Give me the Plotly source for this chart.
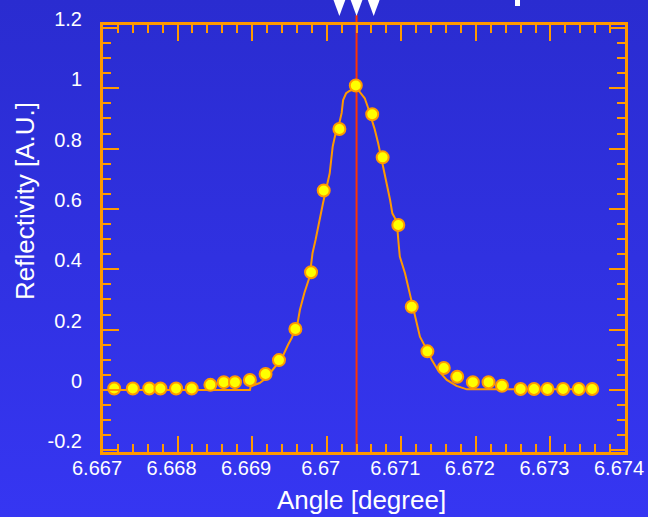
import base64
import plotly.graph_objects as go

# ---------------- data ----------------
meas_angle = [6.66715, 6.66740, 6.66762, 6.66777, 6.66798, 6.66819, 6.66844, 6.66862,
              6.66877, 6.66897, 6.66918, 6.66936, 6.66958, 6.66979, 6.66996, 6.67017,
              6.67039, 6.67061, 6.67075, 6.67096, 6.67114, 6.67135, 6.67157, 6.67175,
              6.67196, 6.67217, 6.67235, 6.67260, 6.67278, 6.67296, 6.67317, 6.67338,
              6.67356]
meas_refl = [0.005, 0.005, 0.005, 0.005, 0.005, 0.005, 0.017, 0.026,
             0.026, 0.033, 0.053, 0.099, 0.202, 0.390, 0.661, 0.865,
             1.009, 0.914, 0.771, 0.547, 0.276, 0.128, 0.073, 0.044,
             0.026, 0.026, 0.014, 0.003, 0.003, 0.003, 0.003, 0.003,
             0.003]

fit_angle = [6.66715, 6.66897, 6.66898, 6.66910, 6.66919, 6.66930, 6.66940, 6.66948,
             6.66953, 6.66961, 6.66964, 6.66970, 6.66977, 6.66981, 6.66985, 6.66995,
             6.67004, 6.67008, 6.67012, 6.67017, 6.67020, 6.67022, 6.67026, 6.67031,
             6.67039, 6.67044, 6.67051, 6.67055, 6.67064, 6.67069, 6.67076, 6.67080,
             6.67085, 6.67088, 6.67094, 6.67096, 6.67098, 6.67105, 6.67111, 6.67118,
             6.67125, 6.67132, 6.67141, 6.67149, 6.67161, 6.67174, 6.67188, 6.67356]
fit_refl = [0.0, 0.0, 0.0116, 0.023, 0.0398, 0.0729, 0.1061, 0.1492,
            0.1724, 0.2221, 0.2652, 0.3215, 0.3745, 0.4541, 0.4972, 0.6187,
            0.7182, 0.8065, 0.8519, 0.8850, 0.9181, 0.9612, 0.9834, 0.9920,
            0.9977, 0.9887, 0.9668, 0.9387, 0.8671, 0.8175, 0.7401, 0.6848,
            0.6297, 0.5855, 0.5579, 0.4972, 0.4419, 0.3867, 0.3204, 0.2431,
            0.1768, 0.1436, 0.0994, 0.0663, 0.0332, 0.0133, 0.002, 0.002]

peak_angle = 6.67040
marker_angles = [6.67017, 6.67040, 6.67063]

x_tickvals = [6.667, 6.668, 6.669, 6.670, 6.671, 6.672, 6.673, 6.674]
x_ticktext = ["6.667", "6.668", "6.669", "6.67", "6.671", "6.672", "6.673", "6.674"]
y_tickvals = [-0.2, 0.0, 0.2, 0.4, 0.6, 0.8, 1.0, 1.2]
y_ticktext = ["-0.2", "0", "0.2", "0.4", "0.6", "0.8", "1", "1.2"]

# ---------------- style ----------------
W, H = 648, 517
ML, MR, MT, MB = 103, 23, 25, 65
PW, PH = W - ML - MR, H - MT - MB
ORANGE = "#FF9900"
FONT = "Liberation Sans, Arial, sans-serif"
X_RANGE = [6.667, 6.674]

def px_to_paper_y(py):
    return (H - MB - py) / PH

svg = ('<svg xmlns="http://www.w3.org/2000/svg" width="648" height="517" '
       'preserveAspectRatio="none"><defs><linearGradient id="g" x1="0" y1="0" x2="0" y2="1">'
       '<stop offset="0" stop-color="#2A2CD0"/><stop offset="1" stop-color="#3636F2"/>'
       '</linearGradient></defs><rect width="648" height="517" fill="url(#g)"/></svg>')
bg_src = "data:image/svg+xml;base64," + base64.b64encode(svg.encode()).decode()

fig = go.Figure()

fig.add_trace(go.Scatter(
    x=fit_angle, y=fit_refl, mode="lines",
    line=dict(color=ORANGE, width=2), hoverinfo="skip", showlegend=False))

fig.add_trace(go.Scatter(
    x=meas_angle, y=meas_refl, mode="markers",
    marker=dict(color="#FFFF00", size=12, line=dict(color=ORANGE, width=2)),
    showlegend=False))

# vertical peak marker line
fig.add_shape(type="line", xref="x", yref="paper",
              x0=peak_angle, x1=peak_angle, y0=px_to_paper_y(455), y1=px_to_paper_y(15),
              line=dict(color="#FF3300", width=2), layer="below")

# white downward triangles above the frame
half_w = 7 * (X_RANGE[1] - X_RANGE[0]) / PW
y_top, y_apex = px_to_paper_y(-3), px_to_paper_y(16)
for xa in marker_angles:
    fig.add_shape(type="path", xref="x", yref="paper",
                  path=f"M {xa - half_w},{y_top} L {xa + half_w},{y_top} L {xa},{y_apex} Z",
                  fillcolor="white", line=dict(width=0), layer="above")

# fragment of the cropped title at the top edge
fig.add_shape(type="rect", xref="paper", yref="paper",
              x0=(515 - ML) / PW, x1=(520 - ML) / PW,
              y0=px_to_paper_y(6), y1=px_to_paper_y(-2),
              fillcolor="white", line=dict(width=0), layer="above")

axis_common = dict(
    showline=True, linecolor=ORANGE, linewidth=3, mirror="ticks",
    ticks="inside", tickcolor=ORANGE, tickwidth=2, ticklen=16,
    showgrid=False, zeroline=False, automargin=False,
    tickfont=dict(color="white", size=20, family=FONT),
    tickmode="array",
)

fig.update_xaxes(
    **axis_common, range=X_RANGE,
    tickvals=x_tickvals, ticktext=x_ticktext,
    ticklabelshift=-6, ticklabelstandoff=-4,
    minor=dict(ticks="inside", ticklen=8, tickwidth=2, tickcolor=ORANGE,
               tickmode="linear", tick0=6.667, dtick=0.0002, showgrid=False),
)
fig.update_yaxes(
    **axis_common, range=[-0.2056, 1.2097],
    tickvals=y_tickvals, ticktext=y_ticktext,
    ticklabelshift=-9, ticklabelstandoff=14,
    minor=dict(ticks="inside", ticklen=8, tickwidth=2, tickcolor=ORANGE,
               tickmode="linear", tick0=0, dtick=0.05, showgrid=False),
)

fig.add_annotation(text="Angle [degree]", xref="paper", yref="paper",
                   x=(361.5 - ML) / PW, y=px_to_paper_y(500),
                   xanchor="center", yanchor="middle", showarrow=False,
                   font=dict(color="white", size=26, family=FONT))
fig.add_annotation(text="Reflectivity [A.U.]", xref="paper", yref="paper",
                   x=(25 - ML) / PW, y=px_to_paper_y(201), textangle=-90,
                   xanchor="center", yanchor="middle", showarrow=False,
                   font=dict(color="white", size=26, family=FONT))

fig.add_layout_image(dict(source=bg_src, xref="paper", yref="paper",
                          x=-ML / PW, y=1 + MT / PH, sizex=W / PW, sizey=H / PH,
                          xanchor="left", yanchor="top", sizing="stretch", layer="below"))

fig.update_layout(
    width=W, height=H, margin=dict(l=ML, r=MR, t=MT, b=MB, pad=0),
    paper_bgcolor="#3030E0", plot_bgcolor="rgba(0,0,0,0)",
    showlegend=False, font=dict(family=FONT, color="white"),
)

fig.write_html("out.html")
